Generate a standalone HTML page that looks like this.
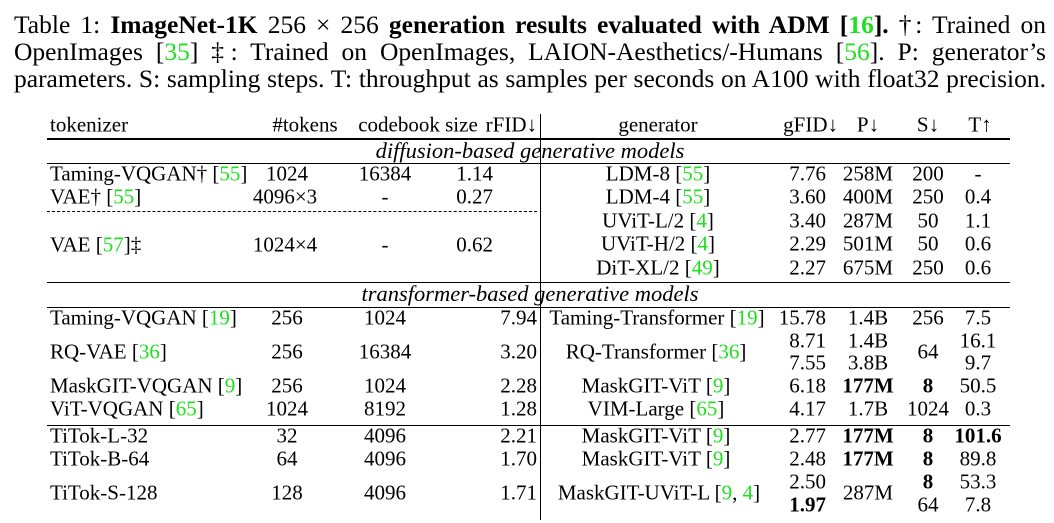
<!DOCTYPE html><html><head><style>
body{margin:0;width:1054px;height:523px;background:#fff;position:relative;overflow:hidden;font-family:"Liberation Serif",serif;color:#000}
.cap{position:absolute;left:14px;width:1032px;font-size:25.5px;line-height:27px;white-space:nowrap;text-align:justify;text-align-last:justify}
.t{position:absolute;font-size:21px;white-space:nowrap;transform:translateY(-50%)}
.c{transform:translate(-50%,-50%)}.r{transform:translate(-100%,-50%)}
.g{color:#1ee01e}b{font-weight:bold}
.h{position:absolute;left:47px;width:963px;background:#000}
</style></head><body>
<div class="cap" style="top:11px">Table 1: <b>ImageNet-1K</b> 256 × 256 <b>generation results evaluated with ADM [<span class="g">16</span>].</b> †: Trained on</div>
<div class="cap" style="top:38px">OpenImages [<span class="g">35</span>] ‡: Trained on OpenImages, LAION-Aesthetics/-Humans [<span class="g">56</span>]. P: generator’s</div>
<div class="cap" style="top:65px">parameters. S: sampling steps. T: throughput as samples per seconds on A100 with float32 precision.</div>

<div class="h" style="top:138px;height:2px"></div>
<div class="h" style="top:163px;height:1px"></div>
<div style="position:absolute;left:47px;top:211px;width:490px;border-top:1px dashed #000"></div>
<div class="h" style="top:282px;height:1px"></div>
<div class="h" style="top:307px;height:1px"></div>
<div class="h" style="top:425px;height:1px"></div>
<div style="position:absolute;left:540px;top:114px;width:1px;height:406px;background:#000"></div>

<div class="t" style="left:50px;top:125px">tokenizer</div>
<div class="t c" style="left:305px;top:125px">#tokens</div>
<div class="t c" style="left:418px;top:125px">codebook size</div>
<div class="t r" style="left:537px;top:125px">rFID↓</div>
<div class="t c" style="left:658px;top:125px">generator</div>
<div class="t r" style="left:838px;top:125px">gFID↓</div>
<div class="t c" style="left:868px;top:125px">P↓</div>
<div class="t c" style="left:928px;top:125px">S↓</div>
<div class="t c" style="left:980px;top:125px">T↑</div>

<div class="t c" style="left:530px;top:151px;font-size:22.5px"><i>diffusion-based generative models</i></div>
<div class="t c" style="left:530px;top:294px;font-size:22.5px"><i>transformer-based generative models</i></div>

<div class="t" style="left:50px;top:174px">Taming-VQGAN† [<span class="g">55</span>]</div>
<div class="t c" style="left:287px;top:174px">1024</div>
<div class="t c" style="left:385px;top:174px">16384</div>
<div class="t r" style="left:493px;top:174px">1.14</div>
<div class="t" style="left:50px;top:197px">VAE† [<span class="g">55</span>]</div>
<div class="t c" style="left:285px;top:197px">4096×3</div>
<div class="t c" style="left:385px;top:197px">-</div>
<div class="t r" style="left:493px;top:197px">0.27</div>
<div class="t" style="left:50px;top:245px">VAE [<span class="g">57</span>]‡</div>
<div class="t c" style="left:285px;top:245px">1024×4</div>
<div class="t c" style="left:385px;top:245px">-</div>
<div class="t r" style="left:493px;top:245px">0.62</div>

<div class="t c" style="left:658px;top:174px">LDM-8 [<span class="g">55</span>]</div>
<div class="t c" style="left:658px;top:197px">LDM-4 [<span class="g">55</span>]</div>
<div class="t c" style="left:658px;top:221px">UViT-L/2 [<span class="g">4</span>]</div>
<div class="t c" style="left:658px;top:244px">UViT-H/2 [<span class="g">4</span>]</div>
<div class="t c" style="left:658px;top:268px">DiT-XL/2 [<span class="g">49</span>]</div>
<div class="t r" style="left:826px;top:174px">7.76</div><div class="t c" style="left:868px;top:174px">258M</div><div class="t c" style="left:928px;top:174px">200</div><div class="t c" style="left:978px;top:174px">-</div>
<div class="t r" style="left:826px;top:197px">3.60</div><div class="t c" style="left:868px;top:197px">400M</div><div class="t c" style="left:928px;top:197px">250</div><div class="t c" style="left:978px;top:197px">0.4</div>
<div class="t r" style="left:826px;top:221px">3.40</div><div class="t c" style="left:868px;top:221px">287M</div><div class="t c" style="left:928px;top:221px">50</div><div class="t c" style="left:978px;top:221px">1.1</div>
<div class="t r" style="left:826px;top:244px">2.29</div><div class="t c" style="left:868px;top:244px">501M</div><div class="t c" style="left:928px;top:244px">50</div><div class="t c" style="left:978px;top:244px">0.6</div>
<div class="t r" style="left:826px;top:268px">2.27</div><div class="t c" style="left:868px;top:268px">675M</div><div class="t c" style="left:928px;top:268px">250</div><div class="t c" style="left:978px;top:268px">0.6</div>

<div class="t" style="left:50px;top:318px">Taming-VQGAN [<span class="g">19</span>]</div>
<div class="t c" style="left:287px;top:318px">256</div><div class="t c" style="left:385px;top:318px">1024</div><div class="t r" style="left:537px;top:318px">7.94</div>
<div class="t" style="left:50px;top:352px">RQ-VAE [<span class="g">36</span>]</div>
<div class="t c" style="left:287px;top:352px">256</div><div class="t c" style="left:385px;top:352px">16384</div><div class="t r" style="left:537px;top:352px">3.20</div>
<div class="t" style="left:50px;top:386px">MaskGIT-VQGAN [<span class="g">9</span>]</div>
<div class="t c" style="left:287px;top:386px">256</div><div class="t c" style="left:385px;top:386px">1024</div><div class="t r" style="left:537px;top:386px">2.28</div>
<div class="t" style="left:50px;top:409px">ViT-VQGAN [<span class="g">65</span>]</div>
<div class="t c" style="left:287px;top:409px">1024</div><div class="t c" style="left:385px;top:409px">8192</div><div class="t r" style="left:537px;top:409px">1.28</div>
<div class="t" style="left:50px;top:436px">TiTok-L-32</div>
<div class="t c" style="left:287px;top:436px">32</div><div class="t c" style="left:385px;top:436px">4096</div><div class="t r" style="left:537px;top:436px">2.21</div>
<div class="t" style="left:50px;top:459px">TiTok-B-64</div>
<div class="t c" style="left:287px;top:459px">64</div><div class="t c" style="left:385px;top:459px">4096</div><div class="t r" style="left:537px;top:459px">1.70</div>
<div class="t" style="left:50px;top:493px">TiTok-S-128</div>
<div class="t c" style="left:287px;top:493px">128</div><div class="t c" style="left:385px;top:493px">4096</div><div class="t r" style="left:537px;top:493px">1.71</div>

<div class="t c" style="left:657px;top:318px">Taming-Transformer [<span class="g">19</span>]</div>
<div class="t c" style="left:656px;top:352px">RQ-Transformer [<span class="g">36</span>]</div>
<div class="t c" style="left:656px;top:386px">MaskGIT-ViT [<span class="g">9</span>]</div>
<div class="t c" style="left:656px;top:409px">VIM-Large [<span class="g">65</span>]</div>
<div class="t c" style="left:656px;top:436px">MaskGIT-ViT [<span class="g">9</span>]</div>
<div class="t c" style="left:656px;top:459px">MaskGIT-ViT [<span class="g">9</span>]</div>
<div class="t c" style="left:659px;top:493px">MaskGIT-UViT-L [<span class="g">9</span>, <span class="g">4</span>]</div>

<div class="t r" style="left:826px;top:318px">15.78</div><div class="t c" style="left:868px;top:318px">1.4B</div><div class="t c" style="left:928px;top:318px">256</div><div class="t c" style="left:978px;top:318px">7.5</div>
<div class="t r" style="left:826px;top:341px">8.71</div><div class="t c" style="left:868px;top:341px">1.4B</div><div class="t c" style="left:978px;top:341px">16.1</div>
<div class="t c" style="left:928px;top:352px">64</div>
<div class="t r" style="left:826px;top:363px">7.55</div><div class="t c" style="left:868px;top:363px">3.8B</div><div class="t c" style="left:978px;top:363px">9.7</div>
<div class="t r" style="left:826px;top:386px">6.18</div><div class="t c" style="left:868px;top:386px"><b>177M</b></div><div class="t c" style="left:928px;top:386px"><b>8</b></div><div class="t c" style="left:978px;top:386px">50.5</div>
<div class="t r" style="left:826px;top:409px">4.17</div><div class="t c" style="left:868px;top:409px">1.7B</div><div class="t c" style="left:928px;top:409px">1024</div><div class="t c" style="left:978px;top:409px">0.3</div>
<div class="t r" style="left:826px;top:436px">2.77</div><div class="t c" style="left:868px;top:436px"><b>177M</b></div><div class="t c" style="left:928px;top:436px"><b>8</b></div><div class="t c" style="left:978px;top:436px"><b>101.6</b></div>
<div class="t r" style="left:826px;top:459px">2.48</div><div class="t c" style="left:868px;top:459px"><b>177M</b></div><div class="t c" style="left:928px;top:459px"><b>8</b></div><div class="t c" style="left:978px;top:459px">89.8</div>
<div class="t r" style="left:826px;top:482px">2.50</div><div class="t c" style="left:928px;top:482px"><b>8</b></div><div class="t c" style="left:978px;top:482px">53.3</div>
<div class="t c" style="left:868px;top:493px">287M</div>
<div class="t r" style="left:826px;top:505px"><b>1.97</b></div><div class="t c" style="left:928px;top:505px">64</div><div class="t c" style="left:978px;top:505px">7.8</div>
</body></html>
